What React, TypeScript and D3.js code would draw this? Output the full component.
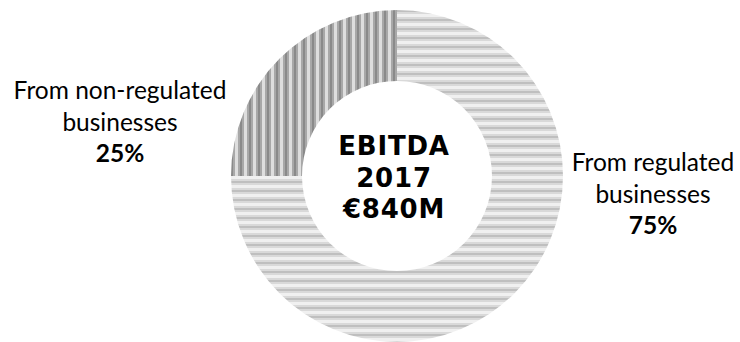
import React from "react";
import * as d3 from "d3";

const categories = ["From regulated businesses", "From non-regulated businesses"];
const values = [75, 25];
const percentLabels = ["75%", "25%"];
const centerLines = ["EBITDA", "2017", "€840M"];

const W = 740;
const H = 342;
const cx = 397;
const cy = 176;
const outerR = 166;
const innerR = 95;

export default function App() {
  const pie = d3.pie<number>().sort(null).startAngle(0).endAngle(2 * Math.PI);
  const arcs = pie(values);
  const arcGen = d3.arc<d3.PieArcDatum<number>>().innerRadius(innerR).outerRadius(outerR);
  const fills = ["url(#hstripe)", "url(#vstripe)"];

  const labelFont = "'Lato', 'Open Sans', sans-serif";
  const labels = [
    { x: 653, y: 171, lines: ["From regulated", "businesses"], pct: percentLabels[0] },
    { x: 120, y: 99, lines: ["From non-regulated", "businesses"], pct: percentLabels[1] },
  ];

  return (
    <svg width={W} height={H} style={{ position: "absolute", left: 0, top: 0 }}>
      <defs>
        <pattern id="hstripe" patternUnits="userSpaceOnUse" width={9} height={9}>
          <rect x={0} y={0} width={9} height={3} fill="#f0f0f0" />
          <rect x={0} y={3} width={9} height={2} fill="#d9d9d9" />
          <rect x={0} y={5} width={9} height={2} fill="#bfbfbf" />
          <rect x={0} y={7} width={9} height={2} fill="#d9d9d9" />
        </pattern>
        <pattern id="vstripe" patternUnits="userSpaceOnUse" width={9} height={9}>
          <rect x={0} y={0} width={3} height={9} fill="#dedede" />
          <rect x={3} y={0} width={2} height={9} fill="#a8a8a8" />
          <rect x={5} y={0} width={2} height={9} fill="#8a8a8a" />
          <rect x={7} y={0} width={2} height={9} fill="#a8a8a8" />
        </pattern>
      </defs>
      <rect width={W} height={H} fill="#ffffff" />
      <g transform={`translate(${cx},${cy})`}>
        {arcs.map((a, i) => (
          <path key={categories[i]} d={arcGen(a) || ""} fill={fills[i]} />
        ))}
      </g>
      <g fontFamily="'DejaVu Sans', Verdana, sans-serif" fontWeight="bold" fontSize={26} letterSpacing={0.8} textAnchor="middle" fill="#000">
        {centerLines.map((t, i) => (
          <text key={t} x={394} y={155 + i * 31.5}>{t}</text>
        ))}
      </g>
      {labels.map((l) => (
        <g key={l.pct} fontFamily={labelFont} fontSize={24.5} textAnchor="middle" fill="#000">
          {l.lines.map((t, i) => (
            <text key={i} x={l.x} y={l.y + i * 31.5}>{t}</text>
          ))}
          <text x={l.x} y={l.y + 2 * 31.5} fontWeight="bold">{l.pct}</text>
        </g>
      ))}
    </svg>
  );
}
